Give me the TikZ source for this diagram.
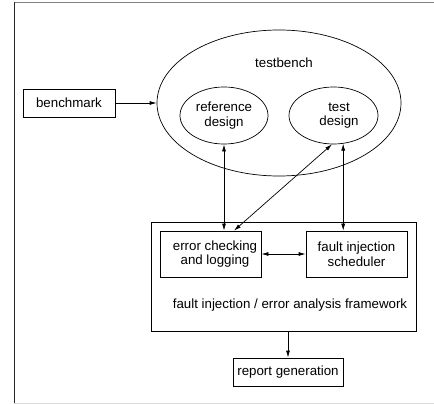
\documentclass[tikz,border=0pt]{standalone}
\usepackage{fontspec}
\setmainfont{Liberation Sans}
\usetikzlibrary{arrows.meta,shapes.geometric}
\tikzset{
  box/.style={draw, rectangle, inner sep=0pt, line width=0.7pt, align=center},
  oval/.style={draw, ellipse, inner sep=0pt, line width=0.7pt, align=center},
  lbl/.style={inner sep=0pt, align=center},
  arr/.style={line width=0.7pt, -{Latex[length=7pt,width=4pt]}},
  darr/.style={line width=0.7pt, {Latex[length=7pt,width=4pt]}-{Latex[length=7pt,width=4pt]}},
}
\begin{document}
\begin{tikzpicture}[x=1pt,y=-1pt,font=\fontsize{13.3}{14.5}\selectfont]
\useasboundingbox (0,0) rectangle (434,404);
% frame
\draw[gray, line width=1pt] (14,2.5) -- (434,2.5);
\draw[black!85, line width=1.3pt] (14.5,2.5) -- (14.5,404);
\draw[black!15, line width=1pt] (14,403) -- (434,403);
% nodes
\node[box, minimum width=92pt, minimum height=28pt] (bench) at (69,103) {benchmark};
\node[oval, minimum width=244pt, minimum height=146pt] (tb) at (279,103) {};
\node[lbl] (tblabel) at (284,63) {testbench};
\node[oval, minimum width=88pt, minimum height=57pt] (ref) at (224,115.5) {reference\\design};
\node[oval, minimum width=89pt, minimum height=57pt] (test) at (333.5,115.5) {};
\node[lbl] (testlabel) at (339,115.5) {test\\design};
\node[box, minimum width=265pt, minimum height=109pt] (fw) at (283.5,276.5) {};
\node[lbl] (fwlabel) at (290,305) {fault injection / error analysis framework};
\node[box, minimum width=101pt, minimum height=46pt] (err) at (210.5,254) {};
\node[lbl] (errlabel) at (215,254) {error checking\\and logging};
\node[box, minimum width=101pt, minimum height=46pt] (sched) at (356.5,254) {fault injection\\scheduler};
\node[box, minimum width=110pt, minimum height=28pt] (rep) at (288,372) {report generation};
% connectors
\draw[arr] (bench.east) -- (tb.west);
\draw[darr] (ref.south) -- (ref.south |- err.north);
\draw[darr] (test.-71) -- (test.-71 |- sched.north);
\coordinate (errtop) at ([xshift=23.5pt]err.north);
\draw[darr] (errtop) -- (test.-93);
\draw[darr] (err.east) -- (sched.west);
\coordinate (fwbot) at ([xshift=4.5pt]fw.south);
\draw[arr] (fwbot) -- (fwbot |- rep.north);
\end{tikzpicture}
\end{document}
